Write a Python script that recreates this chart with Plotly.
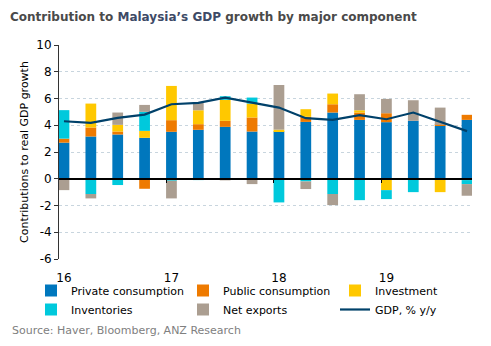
import plotly.graph_objects as go

quarters = ["16Q1", "16Q2", "16Q3", "16Q4", "17Q1", "17Q2", "17Q3", "17Q4",
            "18Q1", "18Q2", "18Q3", "18Q4", "19Q1", "19Q2", "19Q3", "19Q4"]
tick_cats = ["16Q1", "17Q1", "18Q1", "19Q1"]
tick_text = ["16", "17", "18", "19"]
y_ticks = [-6, -4, -2, 0, 2, 4, 6, 8, 10]
y_tick_text = ["-6", "-4", "-2", "0", "2", "4", "6", "8", "10"]

private = [2.70, 3.16, 3.31, 3.06, 3.51, 3.66, 3.88, 3.53, 3.55, 4.25, 4.95, 4.40, 4.23, 4.33, 3.96, 4.40]
public = [0.30, 0.67, 0.22, -0.75, 0.87, 0.42, 0.45, 1.05, 0.00, 0.38, 0.62, 0.55, 0.67, 0.00, 0.07, 0.38]
investment = [0.00, 1.79, 0.50, 0.52, 2.56, 1.04, 1.57, 1.04, 0.12, 0.57, 0.80, 0.17, -0.85, -0.08, -1.00, -0.10]
inventories = [2.13, -1.14, -0.47, 1.42, -0.15, -0.10, 0.27, 0.45, -1.77, -0.20, -1.14, -1.60, -0.67, -0.92, 0.00, -0.30]
net_exports = [-0.85, -0.33, 0.92, 0.52, -1.32, 0.60, -0.12, -0.40, 3.34, -0.57, -0.83, 1.20, 1.07, 1.54, 1.29, -0.87]
gdp = [4.30, 4.18, 4.55, 4.80, 5.57, 5.67, 6.07, 5.70, 5.32, 4.53, 4.40, 4.75, 4.45, 4.95, 4.27, 3.56]

series = [
    ("Private consumption", private, "#0077BD"),
    ("Public consumption", public, "#EE7A00"),
    ("Investment", investment, "#FFC800"),
    ("Inventories", inventories, "#00C9DC"),
    ("Net exports", net_exports, "#AB9E91"),
]

fig = go.Figure()
for name, vals, col in series:
    fig.add_trace(go.Bar(x=quarters, y=vals, name=name, marker_color=col,
                         marker_line_width=0, width=0.4))
fig.add_trace(go.Scatter(x=quarters, y=gdp, name="GDP, % y/y", mode="lines",
                         line=dict(color="#00416A", width=2.2)))
# helper trace so the zero-line axis is drawn
fig.add_trace(go.Scatter(x=[None], y=[None], xaxis="x2", showlegend=False,
                         hoverinfo="skip"))

font = "DejaVu Sans"
L, R, T, B = 59, 19, 45, 87
PW, PH = 491 - L - R, 346 - T - B

fig.update_layout(
    width=491, height=346,
    margin=dict(l=L, r=R, t=T, b=B, autoexpand=False),
    barmode="relative",
    plot_bgcolor="white", paper_bgcolor="white",
    font=dict(family=font, size=12, color="#000000"),
    title=dict(text="Contribution to <span style='color:#3d4a66'>Malaysia’s GDP</span> growth by major component",
               xref="container", x=10/491, xanchor="left",
               yref="container", y=1-17/346, yanchor="middle",
               font=dict(family=font, size=12, color="#4a4a4a", weight="bold")),
    xaxis=dict(type="category", categoryorder="array", categoryarray=quarters,
               range=[-0.185, 15.185], tickvals=tick_cats, ticktext=tick_text,
               showgrid=False, showline=False, zeroline=False,
               ticks="outside", ticklen=8, tickcolor="rgba(0,0,0,0)",
               tickfont=dict(size=12)),
    xaxis2=dict(overlaying="x", anchor="free", position=6/16, range=[-0.185, 15.185],
                showgrid=False, zeroline=False, showline=True, linecolor="#000000",
                linewidth=1.5, ticks="outside", ticklen=3, tickcolor="#000000",
                tickvals=[3.8, 7.78, 11.8], showticklabels=False, layer="above traces"),
    yaxis=dict(range=[-6, 10], tickvals=y_ticks, ticktext=y_tick_text,
               showgrid=True, gridcolor="#C8D5DE",
               griddash="dot", gridwidth=1, zeroline=False,
               showline=True, linecolor="#333333", linewidth=1,
               ticks="outside", ticklen=4, tickcolor="#333333",
               tickfont=dict(size=12),
               title=dict(text="Contributions to real GDP growth", standoff=5,
                          font=dict(size=11))),
    legend=dict(orientation="h", xref="paper", yref="paper",
                x=(31 - L)/PW, y=(T + PH - 276)/PH, xanchor="left", yanchor="top",
                entrywidth=107, entrywidthmode="pixels",
                font=dict(size=11), traceorder="normal",
                bgcolor="rgba(0,0,0,0)", itemclick=False),
    annotations=[dict(text="Source: Haver, Bloomberg, ANZ Research",
                      xref="paper", yref="paper", x=(10 - L)/PW, y=(T + PH - 330)/PH,
                      xanchor="left", yanchor="middle", showarrow=False,
                      font=dict(family=font, size=11, color="#808080"))],
    showlegend=True,
)

fig.write_html("out.html")
